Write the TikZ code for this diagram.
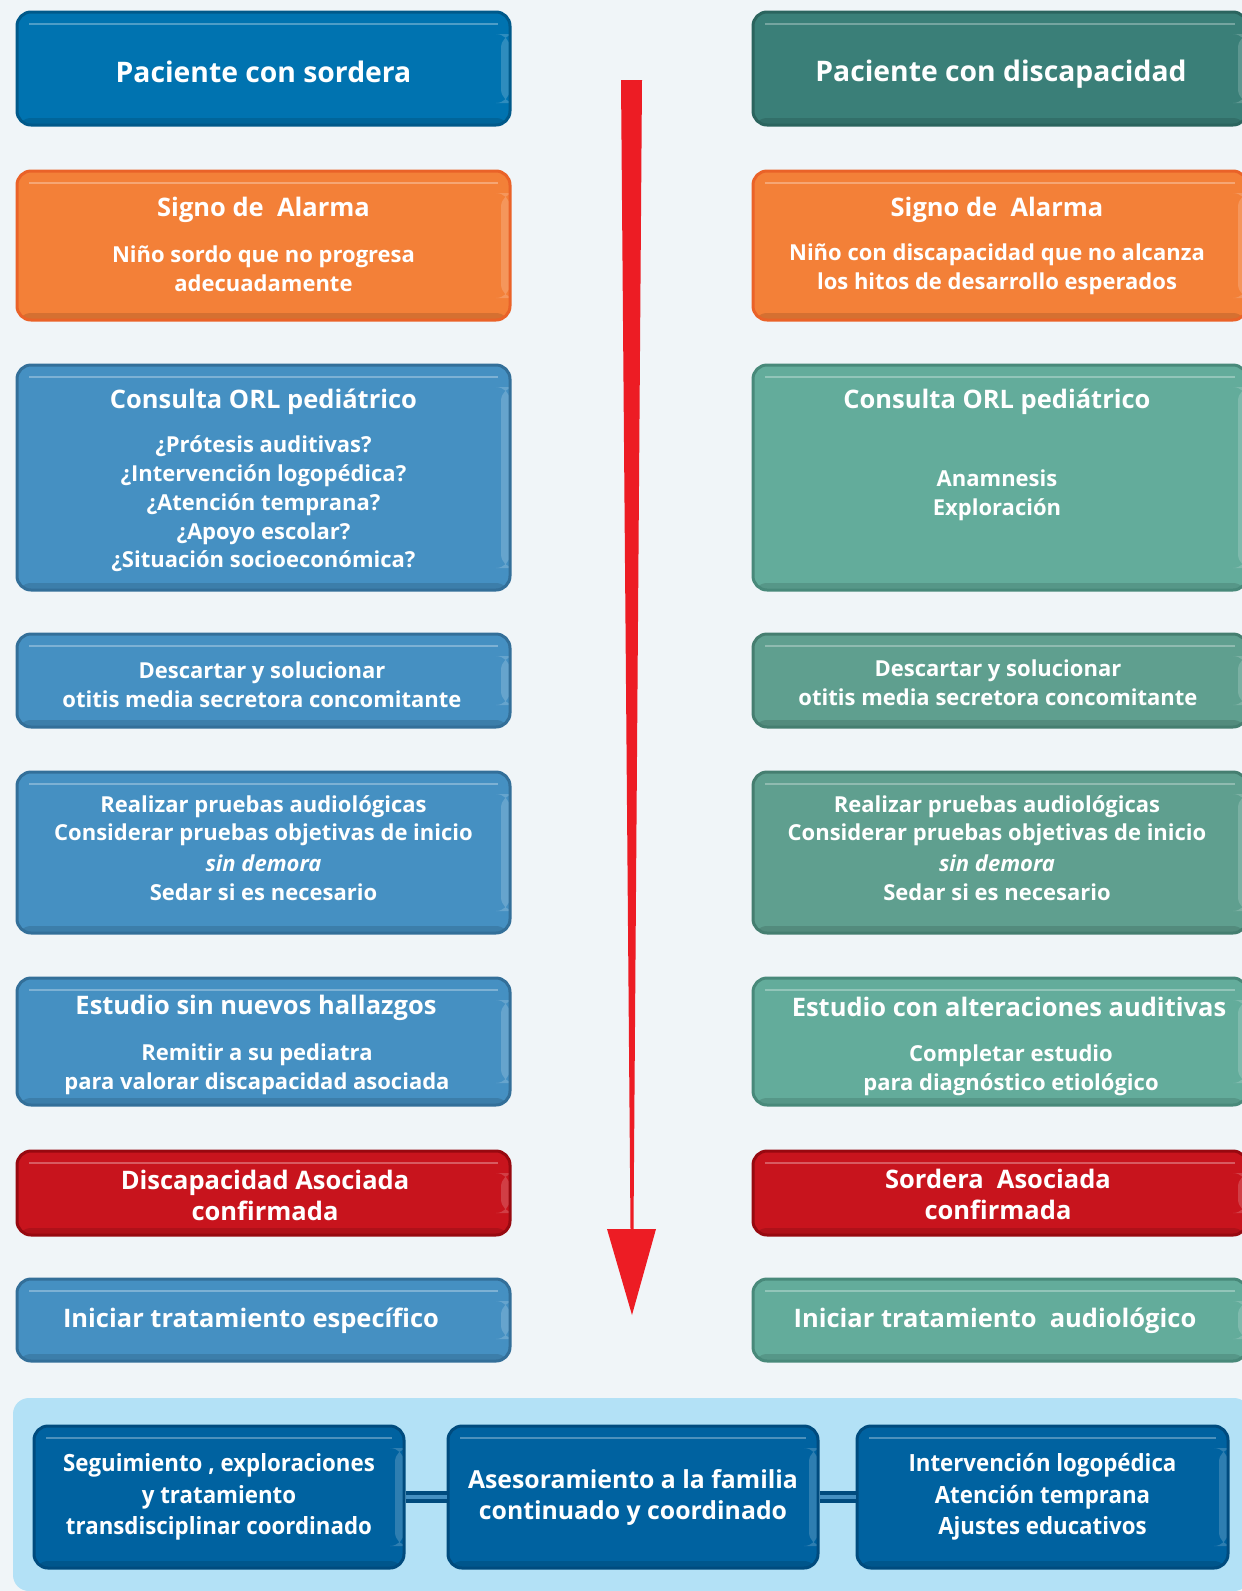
\documentclass[tikz,border=0pt]{standalone}
\usepackage{fontspec}
\setmainfont{Open Sans}
\newfontfamily\narrowfont[FakeStretch=0.94]{Open Sans}
\usepackage{xcolor}
\usepackage{tikz}

\definecolor{bgcol}{HTML}{F0F5F8}
\definecolor{sorfill}{HTML}{0073B0}
\definecolor{sordark}{HTML}{00598A}
\definecolor{disfill}{HTML}{3A7F78}
\definecolor{disdark}{HTML}{2B645E}
\definecolor{orfill}{HTML}{F38038}
\definecolor{ordark}{HTML}{EA6228}
\definecolor{bluefill}{HTML}{4590C2}
\definecolor{bluedark}{HTML}{336F99}
\definecolor{sagefill}{HTML}{63AC9B}
\definecolor{sagedark}{HTML}{48897A}
\definecolor{mossfill}{HTML}{5F9F8F}
\definecolor{mossdark}{HTML}{457E70}
\definecolor{redfill}{HTML}{C8141D}
\definecolor{reddark}{HTML}{970910}
\definecolor{panelcol}{HTML}{B3E1F6}
\definecolor{navyfill}{HTML}{0062A0}
\definecolor{navydark}{HTML}{004B7E}
\definecolor{arrowred}{HTML}{ED1C24}

\newcommand{\bigfont}{\bfseries\fontsize{28.3}{34}\selectfont}
\newcommand{\hdfont}{\bfseries\fontsize{25.5}{31}\selectfont}
\newcommand{\bdfont}{\bfseries\fontsize{22}{28.8}\selectfont}
\newcommand{\cndfont}{\narrowfont\bfseries\fontsize{23.7}{31.5}\selectfont}

\tikzset{
  bevel/.style={rounded corners=14pt, line width=3pt, inner sep=0pt,
    text=white, align=center,
    path picture={
      \fill[black, opacity=.12]
        ([yshift=7pt]path picture bounding box.south west) rectangle
        (path picture bounding box.south east);
      \draw[white, opacity=.3, line width=2pt]
        ([xshift=12pt,yshift=-12pt]path picture bounding box.north west) --
        ([xshift=-12pt,yshift=-12pt]path picture bounding box.north east);
      \fill[white, opacity=.18]
        ([xshift=-9pt,yshift=-22pt]path picture bounding box.north east) rectangle
        ([yshift=22pt]path picture bounding box.south east);
    }},
  sorbox/.style={bevel, fill=sorfill, draw=sordark},
  disbox/.style={bevel, fill=disfill, draw=disdark},
  alarmbox/.style={bevel, fill=orfill, draw=ordark},
  bluebox/.style={bevel, fill=bluefill, draw=bluedark},
  sagebox/.style={bevel, fill=sagefill, draw=sagedark},
  mossbox/.style={bevel, fill=mossfill, draw=mossdark},
  redbox/.style={bevel, fill=redfill, draw=reddark},
  navybox/.style={bevel, fill=navyfill, draw=navydark, minimum width=370pt, minimum height=142pt},
  lcol/.style={minimum width=493pt},
  rcol/.style={minimum width=494pt},
  txt/.style={text=white, align=center, inner sep=0pt},
  link/.style={draw=navydark, line width=4pt, double=bluefill, double distance=4pt},
}

\begin{document}
\begin{tikzpicture}[x=1pt, y=-1pt]
  \useasboundingbox (0,0) rectangle (1242,1591);
  \fill[bgcol] (0,0) rectangle (1242,1591);

  % left column
  \node[sorbox, lcol, minimum height=113pt] (sor) at (263.5,68.5) {};
  \node[txt, font=\bigfont] (sort) at (263.5,71.5) {Paciente con sordera};
  \node[alarmbox, lcol, minimum height=149pt] (alarm1) at (263.5,245.5) {};
  \node[txt, font=\hdfont] (alarm1t) at (263.5,210) {Signo de~ Alarma};
  \node[txt, font=\bdfont] (alarm1b) at (263.5,269) {Niño sordo que no progresa\\adecuadamente};
  \node[bluebox, lcol, minimum height=225pt] (orl1) at (263.5,477.5) {};
  \node[txt, font=\hdfont] (orl1t) at (263.5,402) {Consulta ORL pediátrico};
  \node[txt, font=\bdfont] (orl1b) at (263.5,504) {¿Prótesis auditivas?\\¿Intervención logopédica?\\¿Atención temprana?\\¿Apoyo escolar?\\¿Situación socioeconómica?};
  \node[bluebox, lcol, minimum height=93pt] (otit1) at (263.5,680.5) {};
  \node[txt, font=\bdfont] (otit1t) at (262,685) {Descartar y solucionar\\otitis media secretora concomitante};
  \node[bluebox, lcol, minimum height=161pt] (audio1) at (263.5,852.5) {};
  \node[txt, font=\bdfont] (audio1t) at (263.5,848)
    {Realizar pruebas audiológicas\\Considerar pruebas objetivas de inicio\\[2pt]{\itshape sin demora}\\Sedar si es necesario};
  \node[bluebox, lcol, minimum height=127pt] (est1) at (263.5,1041.5) {};
  \node[txt, font=\hdfont] (est1t) at (256,1007.5) {Estudio sin nuevos hallazgos};
  \node[txt, font=\bdfont] (est1b) at (257,1069) {Remitir a su pediatra\\para valorar discapacidad asociada};
  \node[redbox, lcol, minimum height=84pt] (conf1) at (263.5,1193) {};
  \node[txt, font=\hdfont] (conf1t) at (265,1195.5) {Discapacidad Asociada\\confirmada};
  \node[bluebox, lcol, minimum height=82pt] (trat1) at (263.5,1320) {};
  \node[txt, font=\hdfont] (trat1t) at (251,1321) {Iniciar tratamiento específico};

  % right column
  \node[disbox, rcol, minimum height=113pt] (dis) at (1000,68.5) {};
  \node[txt, font=\bigfont] (dist) at (1001,74.5) {Paciente con discapacidad};
  \node[alarmbox, rcol, minimum height=149pt] (alarm2) at (1000,245.5) {};
  \node[txt, font=\hdfont] (alarm2t) at (997,210) {Signo de~ Alarma};
  \node[txt, font=\bdfont] (alarm2b) at (997,269) {Niño con discapacidad que no alcanza\\los hitos de desarrollo esperados};
  \node[sagebox, rcol, minimum height=225pt] (orl2) at (1000,477.5) {};
  \node[txt, font=\hdfont] (orl2t) at (997,402) {Consulta ORL pediátrico};
  \node[txt, font=\bdfont] (orl2b) at (997,495.5) {Anamnesis\\Exploración};
  \node[mossbox, rcol, minimum height=93pt] (otit2) at (1000,680.5) {};
  \node[txt, font=\bdfont] (otit2t) at (998,683) {Descartar y solucionar\\otitis media secretora concomitante};
  \node[mossbox, rcol, minimum height=161pt] (audio2) at (1000,852.5) {};
  \node[txt, font=\bdfont] (audio2t) at (997,848)
    {Realizar pruebas audiológicas\\Considerar pruebas objetivas de inicio\\[2pt]{\itshape sin demora}\\Sedar si es necesario};
  \node[sagebox, rcol, minimum height=127pt] (est2) at (1000,1041.5) {};
  \node[txt, font=\hdfont] (est2t) at (1009,1007) {Estudio con alteraciones auditivas};
  \node[txt, font=\bdfont] (est2b) at (1011,1070) {Completar estudio\\para diagnóstico etiológico};
  \node[redbox, rcol, minimum height=84pt] (conf2) at (1000,1193) {};
  \node[txt, font=\hdfont] (conf2t) at (998,1194.5) {Sordera~ Asociada\\confirmada};
  \node[sagebox, rcol, minimum height=82pt] (trat2) at (1000,1320) {};
  \node[txt, font=\hdfont] (trat2t) at (995,1321) {Iniciar tratamiento~ audiológico};

  % central arrow
  \coordinate (atop) at (631.5,80);
  \coordinate (atip) at (632,1315);
  \fill[arrowred] (621,80) -- (642,80) -- (633.5,1229) -- (656,1229) -- (atip)
    -- (607,1229) -- (630.5,1229) -- cycle;

  % bottom panel
  \fill[panelcol, rounded corners=16pt] (13,1398) rectangle (1250,1591);
  \node[navybox, font=\cndfont] (seg) at (219,1497) {Seguimiento , exploraciones\\y tratamiento\\transdisciplinar coordinado};
  \node[navybox, font=\bfseries\fontsize{24.8}{31}\selectfont] (ase) at (633,1497) {Asesoramiento a la familia\\continuado y coordinado};
  \node[navybox, font=\cndfont, minimum width=371pt] (int) at (1042.5,1497) {Intervención logopédica\\Atención temprana\\Ajustes educativos};
  \draw[link] (seg.east) -- (ase.west);
  \draw[link] (ase.east) -- (int.west);
\end{tikzpicture}
\end{document}
